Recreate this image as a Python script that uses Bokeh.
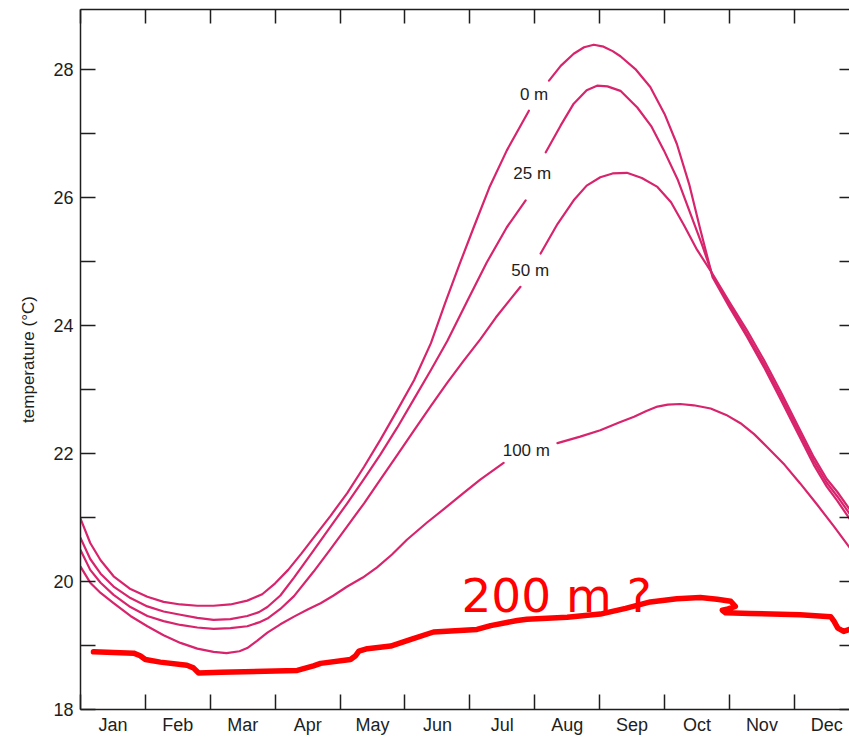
import numpy as np
from bokeh.plotting import figure
from bokeh.models import FixedTicker, LinearAxis, Range1d, Label, ColumnDataSource
from bokeh.embed import file_html
from bokeh.resources import INLINE

nan = float("nan")

# ---------------- data ----------------
month_names = ["Jan", "Feb", "Mar", "Apr", "May", "Jun",
               "Jul", "Aug", "Sep", "Oct", "Nov", "Dec"]
month_edges = [0, 1, 2, 3, 4, 5, 6, 7, 8, 9, 10, 11, 12]
month_centers = [0.5, 1.5, 2.5, 3.5, 4.5, 5.5, 6.5, 7.5, 8.5, 9.5, 10.5, 11.5]
temp_ticks = [18, 20, 22, 24, 26, 28]
temp_minor = [19, 21, 23, 25, 27]

months_0m = [0, 0.15, 0.31, 0.51, 0.77, 1.03, 1.28, 1.54, 1.80, 2.05, 2.31, 2.57, 2.80, 3.00,
             3.20, 3.40, 3.59, 3.85, 4.11, 4.37, 4.62, 4.88, 5.14, 5.40, 5.62, 5.84, 6.06, 6.30,
             6.57, 6.91, nan, 7.22, 7.40, 7.60, 7.76, 7.91, 8.06, 8.20, 8.32, 8.55, 8.78, 9.00,
             9.19, 9.38, 9.55, 9.74, 10.00, 10.27, 10.53, 10.79, 11.05, 11.30, 11.50, 11.66, 11.85]
temp_0m = [20.98, 20.60, 20.33, 20.08, 19.88, 19.76, 19.68, 19.64, 19.62, 19.62, 19.64, 19.70, 19.80,
           19.97, 20.18, 20.43, 20.68, 21.02, 21.38, 21.79, 22.21, 22.67, 23.14, 23.72, 24.35,
           24.95, 25.53, 26.15, 26.73, 27.35, nan, 27.82, 28.05, 28.24, 28.34, 28.38, 28.35,
           28.28, 28.20, 28.00, 27.72, 27.30, 26.83, 26.20, 25.50, 24.75, 24.28, 23.82, 23.35,
           22.84, 22.32, 21.82, 21.48, 21.26, 20.98]

months_25m = [0, 0.15, 0.31, 0.51, 0.77, 1.03, 1.28, 1.54, 1.80, 2.05, 2.31, 2.57, 2.75, 2.88,
              3.08, 3.29, 3.59, 3.85, 4.11, 4.37, 4.62, 4.88, 5.14, 5.40, 5.65, 5.96, 6.26, 6.57,
              6.86, nan, 7.17, 7.40, 7.60, 7.80, 7.96, 8.12, 8.32, 8.58, 8.80, 8.99, 9.20, 9.40,
              9.58, 9.74, 10.00, 10.27, 10.53, 10.79, 11.05, 11.30, 11.50, 11.66, 11.85]
temp_25m = [20.68, 20.35, 20.12, 19.92, 19.74, 19.61, 19.53, 19.48, 19.43, 19.40, 19.41, 19.46,
            19.52, 19.60, 19.78, 20.06, 20.48, 20.85, 21.22, 21.60, 21.98, 22.40, 22.85, 23.30,
            23.75, 24.38, 24.98, 25.53, 25.95, nan, 26.70, 27.12, 27.46, 27.67, 27.74, 27.73,
            27.66, 27.40, 27.10, 26.73, 26.28, 25.74, 25.25, 24.78, 24.32, 23.86, 23.40, 22.90,
            22.38, 21.88, 21.54, 21.33, 21.06]

months_50m = [0, 0.15, 0.31, 0.51, 0.77, 1.03, 1.28, 1.54, 1.80, 2.05, 2.31, 2.57, 2.75, 2.88,
              3.08, 3.29, 3.59, 3.85, 4.11, 4.37, 4.62, 4.88, 5.14, 5.40, 5.65, 5.90, 6.16, 6.40,
              6.62, 6.78, nan, 7.09, 7.35, 7.60, 7.80, 8.01, 8.20, 8.42, 8.65, 8.89, 9.10, 9.30,
              9.50, 9.74, 10.00, 10.27, 10.53, 10.79, 11.05, 11.30, 11.50, 11.66, 11.85]
temp_50m = [20.49, 20.18, 19.98, 19.79, 19.60, 19.46, 19.38, 19.32, 19.28, 19.26, 19.27, 19.30,
            19.36, 19.42, 19.57, 19.77, 20.15, 20.50, 20.86, 21.22, 21.59, 21.97, 22.36, 22.74,
            23.10, 23.44, 23.78, 24.12, 24.40, 24.60, nan, 25.12, 25.58, 25.95, 26.18, 26.31,
            26.37, 26.38, 26.30, 26.16, 25.92, 25.56, 25.18, 24.80, 24.36, 23.92, 23.46, 22.96,
            22.44, 21.94, 21.60, 21.40, 21.13]

months_100m = [0, 0.15, 0.31, 0.51, 0.77, 1.03, 1.28, 1.54, 1.80, 2.05, 2.25, 2.45, 2.57, 2.72,
               2.88, 3.08, 3.29, 3.50, 3.70, 3.90, 4.11, 4.35, 4.57, 4.80, 5.03, 5.34, 5.65, 5.90,
               6.16, 6.52, nan, 7.35, 7.70, 8.01, 8.30, 8.53, 8.72, 8.89, 9.05, 9.24, 9.45, 9.71,
               9.95, 10.17, 10.38, 10.58, 10.85, 11.09, 11.35, 11.61, 11.85]
temp_100m = [20.23, 19.98, 19.82, 19.66, 19.46, 19.30, 19.16, 19.04, 18.95, 18.90, 18.88, 18.91,
             18.96, 19.07, 19.20, 19.33, 19.45, 19.56, 19.66, 19.78, 19.92, 20.06, 20.22, 20.42,
             20.65, 20.92, 21.17, 21.38, 21.59, 21.85, nan, 22.16, 22.26, 22.36, 22.48, 22.57,
             22.66, 22.73, 22.76, 22.77, 22.75, 22.70, 22.60, 22.47, 22.30, 22.10, 21.82, 21.53,
             21.20, 20.86, 20.53]

months_200m = [0.20, 0.82, 0.92, 1.00, 1.23, 1.64, 1.74, 1.82, 2.17, 3.34, 3.59, 3.70, 4.16,
               4.24, 4.29, 4.42, 4.78, 5.08, 5.44, 6.11, 6.32, 6.73, 6.88, 7.50, 8.01, 8.40,
               8.78, 9.19, 9.55, 9.81, 10.02, 10.09, 9.98, 9.89, 9.94, 10.32, 11.09, 11.56,
               11.61, 11.67, 11.76, 11.85]
temp_200m = [18.90, 18.88, 18.84, 18.78, 18.74, 18.69, 18.65, 18.57, 18.58, 18.61, 18.68,
             18.72, 18.78, 18.84, 18.91, 18.95, 18.99, 19.09, 19.21, 19.25, 19.31, 19.39, 19.41,
             19.44, 19.49, 19.58, 19.68, 19.73, 19.75, 19.72, 19.69, 19.61, 19.57, 19.55, 19.51,
             19.50, 19.48, 19.45, 19.38, 19.27, 19.22, 19.25]

# ---------------- figure ----------------
AX = "#1e1e1e"
PINK = "#d8246c"
FONT = "Liberation Sans"

p = figure(width=849, height=737, x_range=Range1d(0, 11.85), y_range=Range1d(18, 28.93),
           output_backend="svg", toolbar_location=None,
           x_axis_location=None, y_axis_location=None)
p.outline_line_color = None
p.xgrid.visible = False
p.ygrid.visible = False
p.background_fill_color = "white"
p.border_fill_color = "white"
p.min_border_left = 80
p.min_border_right = 0
p.min_border_top = 9
p.min_border_bottom = 27

# left axis
yaxis = LinearAxis(ticker=FixedTicker(ticks=temp_ticks, minor_ticks=temp_minor))
yaxis.axis_label = "temperature (°C)"
yaxis.axis_label_text_font = FONT
yaxis.axis_label_text_font_size = "17px"
yaxis.axis_label_text_font_style = "normal"
yaxis.axis_label_text_color = AX
yaxis.axis_label_standoff = 12
yaxis.major_label_text_font = FONT
yaxis.major_label_text_font_size = "18px"
yaxis.major_label_text_color = AX
yaxis.major_label_standoff = 7
yaxis.major_tick_in = 15
yaxis.major_tick_out = 0
yaxis.minor_tick_in = 15
yaxis.minor_tick_out = 0
yaxis.axis_line_color = AX
yaxis.axis_line_width = 1.5
yaxis.major_tick_line_color = AX
yaxis.major_tick_line_width = 1.5
yaxis.minor_tick_line_color = AX
yaxis.minor_tick_line_width = 1.5
p.add_layout(yaxis, "left")

# right axis: tick marks only (no labels)
raxis = LinearAxis(ticker=FixedTicker(ticks=[], minor_ticks=temp_ticks + temp_minor))
raxis.major_label_standoff = 0
raxis.axis_line_color = None
raxis.major_tick_in = 0
raxis.major_tick_out = 0
raxis.minor_tick_in = 10
raxis.minor_tick_out = 0
raxis.minor_tick_line_color = AX
raxis.minor_tick_line_width = 1.5
p.add_layout(raxis, "right")

# bottom axis: month labels between month-boundary ticks
xaxis = LinearAxis(ticker=FixedTicker(ticks=month_centers, minor_ticks=month_edges))
xaxis.major_label_overrides = {c: n for c, n in zip(month_centers, month_names)}
xaxis.major_label_text_font = FONT
xaxis.major_label_text_font_size = "18px"
xaxis.major_label_text_color = AX
xaxis.major_label_standoff = 5
xaxis.major_tick_in = 0
xaxis.major_tick_out = 0
xaxis.minor_tick_in = 15
xaxis.minor_tick_out = 0
xaxis.axis_line_color = AX
xaxis.axis_line_width = 1.5
xaxis.minor_tick_line_color = AX
xaxis.minor_tick_line_width = 1.5
p.add_layout(xaxis, "below")

# top axis: tick marks only (no labels)
taxis = LinearAxis(ticker=FixedTicker(ticks=[], minor_ticks=month_edges))
taxis.major_label_standoff = 0
taxis.major_tick_in = 0
taxis.major_tick_out = 0
taxis.minor_tick_in = 14
taxis.minor_tick_out = 0
taxis.axis_line_color = AX
taxis.axis_line_width = 1.5
taxis.minor_tick_line_color = AX
taxis.minor_tick_line_width = 1.5
p.add_layout(taxis, "above")

# curves
for xs, ys in [(months_0m, temp_0m), (months_25m, temp_25m),
               (months_50m, temp_50m), (months_100m, temp_100m)]:
    src = ColumnDataSource(dict(x=np.array(xs, dtype=float), y=np.array(ys, dtype=float)))
    p.line("x", "y", source=src, line_color=PINK, line_width=2.2,
           line_join="round", line_cap="round")

src200 = ColumnDataSource(dict(x=np.array(months_200m), y=np.array(temp_200m)))
p.line("x", "y", source=src200, line_color="#ff0000", line_width=5.5,
       line_join="round", line_cap="round")

# curve labels
for txt, lx, ly in [("0 m", 6.99, 27.60), ("25 m", 6.96, 26.37),
                    ("50 m", 6.93, 24.86), ("100 m", 6.87, 22.04)]:
    p.add_layout(Label(x=lx, y=ly, text=txt, text_align="center", text_baseline="middle",
                       text_font=FONT, text_font_size="17px", text_color=AX))

p.add_layout(Label(x=5.87, y=19.78, text="200 m ?", text_align="left",
                   text_baseline="alphabetic", text_font="DejaVu Sans",
                   text_font_size="47px", text_color="#ff0000"))

open("out.html", "w").write(file_html(p, INLINE))
